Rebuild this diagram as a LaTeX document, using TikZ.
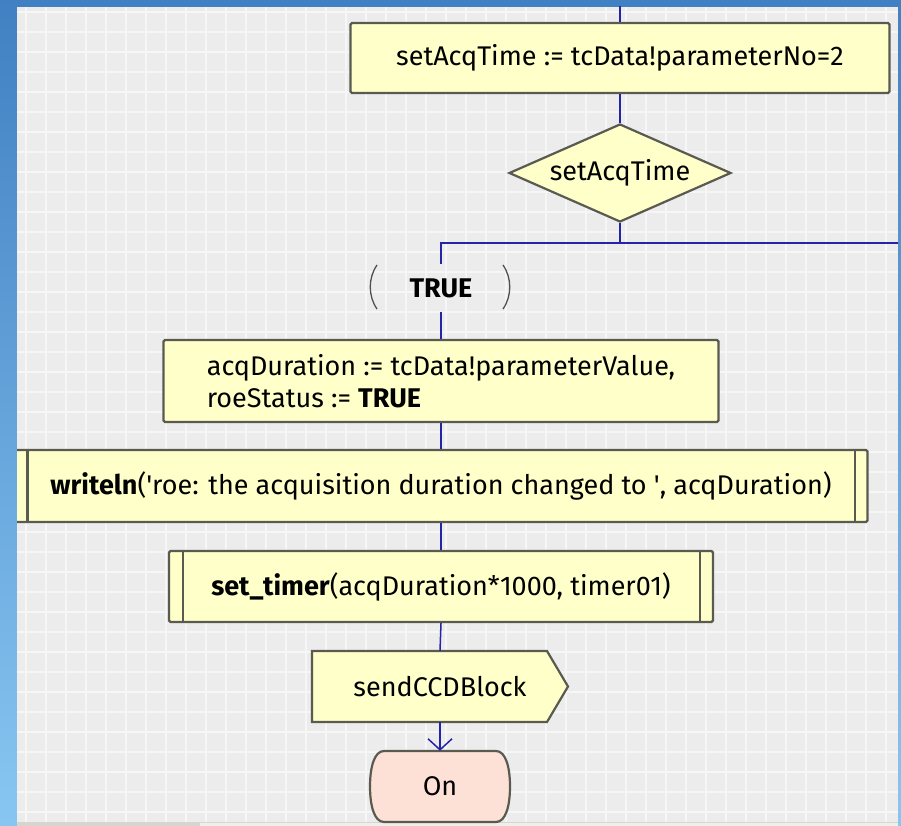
\documentclass[tikz,border=0pt]{standalone}
\usepackage{fontspec}
\setmainfont{Fira Sans}
\usetikzlibrary{shapes.geometric,arrows.meta}

\definecolor{boxfill}{HTML}{FFFFC9}
\definecolor{boxline}{HTML}{5A5A50}
\definecolor{flowline}{HTML}{2424A8}
\definecolor{statefill}{HTML}{FDE1D7}
\definecolor{canvasbg}{HTML}{ECECEC}
\definecolor{gridline}{HTML}{F6F6F6}
\definecolor{deskTop}{HTML}{4180C2}
\definecolor{deskBottom}{HTML}{88C6F2}
\definecolor{parencol}{HTML}{505050}
\definecolor{scrollbg}{HTML}{D6D6CE}
\definecolor{scrollbar}{HTML}{F0F0EA}

\begin{document}
\begin{tikzpicture}[x=1pt,y=-1pt,
  every node/.style={font=\fontsize{27}{32}\selectfont, text=black},
  sdlshape/.style={draw=boxline, line width=2.2pt, fill=boxfill, inner sep=0pt},
  task/.style={sdlshape, rectangle, rounded corners=1.5pt},
  proc/.style={task},
  procbar/.style={draw=boxline, line width=2.2pt},
  decision/.style={sdlshape, diamond, aspect=2.27},
  label/.style={inner sep=0pt},
  flow/.style={draw=flowline, line width=1.5pt},
  paren/.style={draw=parencol, line width=1.3pt},
  stateshape/.style={draw=boxline, line width=2.2pt, fill=statefill}
]
\useasboundingbox (0,0) rectangle (901,826);

% desktop behind the editor window
\shade[top color=deskTop, bottom color=deskBottom] (0,0) rectangle (901,826);

% editor canvas with its grid
\fill[canvasbg] (17,7) rectangle (898,823);
\foreach \gx in {26,46,...,886}
  \draw[gridline, line width=1.2pt] (\gx,7) -- (\gx,822);
\foreach \gy in {12,32,...,812}
  \draw[gridline, line width=1.2pt] (17,\gy) -- (898,\gy);
\fill[scrollbg] (17,822) rectangle (898,826);
\fill[scrollbar] (200,823) rectangle (898,826);

\begin{scope}
\clip (17,7) rectangle (898,823);

% nodes
\node[task, minimum width=539pt, minimum height=70pt] (b1) at (620,58)
  {setAcqTime := tcData!parameterNo=2};
\node[decision, minimum width=222pt, minimum height=98pt] (dec) at (620,173)
  {setAcqTime};
\node[label, minimum height=47pt, minimum width=70pt] (cond) at (441,288)
  {\textbf{TRUE}};
\node[task, minimum width=555pt, minimum height=82pt, align=left] (b2) at (441,381)
  {acqDuration := tcData!parameterValue,\\roeStatus := \textbf{TRUE}};
\node[proc, minimum width=853pt, minimum height=72pt] (b3) at (441,486)
  {\textbf{writeln}(\textquotesingle roe: the acquisition duration changed to \textquotesingle, acqDuration)};
\node[proc, minimum width=544pt, minimum height=71pt] (b4) at (441,586.5)
  {\textbf{set\_timer}(acqDuration*1000, timer01)};

% output symbol outline, then its label
\draw[sdlshape] (312,651) -- (547,651) -- (568,686.5) -- (547,722) -- (312,722) -- cycle;
\node[label, minimum width=256pt, minimum height=71pt] (sig) at (440,686.5) {sendCCDBlock};

% state symbol outline, then its label
\draw[stateshape] (384,751) -- (496,751)
  .. controls (506,751) and (510,768) .. (510,786.5)
  .. controls (510,805) and (506,822) .. (496,822)
  -- (384,822)
  .. controls (374,822) and (370,805) .. (370,786.5)
  .. controls (370,768) and (374,751) .. (384,751) -- cycle;
\node[label, minimum width=140pt, minimum height=71pt] (on) at (440,786.5) {On};

% side bars of the procedure calls
\draw[procbar] ([xshift=14pt]b3.north west) -- ([xshift=14pt]b3.south west);
\draw[procbar] ([xshift=-14pt]b3.north east) -- ([xshift=-14pt]b3.south east);
\draw[procbar] ([xshift=15pt]b4.north west) -- ([xshift=15pt]b4.south west);
\draw[procbar] ([xshift=-14pt]b4.north east) -- ([xshift=-14pt]b4.south east);

% brackets round the answer
\draw[paren] (377,265) .. controls (368,278) and (368,296) .. (377,309);
\draw[paren] (503,265) .. controls (512,278) and (512,296) .. (503,309);

% connectors
\coordinate (entry) at (620,0);
\coordinate (fork) at (620,243);
\coordinate (turn) at (441,243);
\coordinate (exit) at (905,243);

\draw[flow] (entry) -- (b1.north);
\draw[flow] (b1.south) -- (dec.north);
\draw[flow] (dec.south) -- (fork);
\draw[flow] (exit) -- (turn) -- (cond.north);
\draw[flow] (cond.south) -- (b2.north);
\draw[flow] (b2.south) -- (b3.north);
\draw[flow] (b3.south) -- (b4.north);
\draw[flow] (b4.south) -- (sig.north);
\draw[flow, -{Straight Barb[length=11pt, width=24pt, line width=1.5pt]}] (sig.south) -- (on.north);
\end{scope}
\end{tikzpicture}
\end{document}
